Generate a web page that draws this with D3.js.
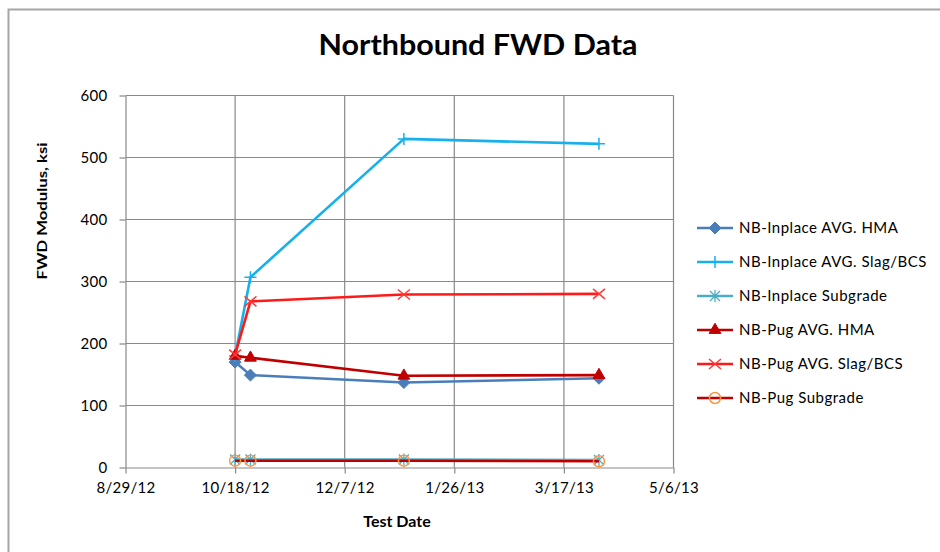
<!DOCTYPE html>
<html>
<head>
<meta charset="utf-8">
<script src="https://cdn.jsdelivr.net/npm/d3@7"></script>
<style>
  body { margin: 0; background: #fff; }
  svg { display: block; font-family: Lato, "Open Sans", sans-serif; }
  .title { font-weight: bold; }
</style>
</head>
<body>
<svg width="940" height="552"></svg>
<script>
// test dates and tick labels
var testDates = ["2012-10-18", "2012-10-25", "2013-01-03", "2013-04-02"];
var tickLabels = ["8/29/12", "10/18/12", "12/7/12", "1/26/13", "3/17/13", "5/6/13"];
var yTicks = [0, 100, 200, 300, 400, 500, 600];

// series values (ksi)
var seriesNames = ["NB-Inplace AVG. HMA", "NB-Inplace AVG. Slag/BCS", "NB-Inplace Subgrade",
                   "NB-Pug AVG. HMA", "NB-Pug AVG. Slag/BCS", "NB-Pug Subgrade"];
var inplaceHMA  = [170, 149, 137, 144];
var inplaceSlag = [180, 307, 530, 522];
var inplaceSub  = [13, 13, 13, 12];
var pugHMA      = [180, 177, 148, 149];
var pugSlag     = [182, 268, 279, 280];
var pugSub      = [11, 11, 11, 10];

var svg = d3.select("svg");

// chart frame
svg.append("rect")
    .attr("x", 8.5).attr("y", 9.5)
    .attr("width", 960).attr("height", 600)
    .attr("fill", "none")
    .attr("stroke", "#a6a6a6")
    .attr("stroke-width", 2);

var parseDate = d3.timeParse("%Y-%m-%d");
var parseTick = d3.timeParse("%m/%d/%y");
var fmtTick = function(d) {
    return (d.getMonth() + 1) + "/" + d.getDate() + "/" + String(d.getFullYear()).slice(2);
};

var tickDates = tickLabels.map(parseTick);

var xScale = d3.scaleTime()
    .domain([tickDates[0], tickDates[tickDates.length - 1]])
    .range([125.5, 673.5]);
var yScale = d3.scaleLinear()
    .domain([0, 600])
    .range([467.5, 95.5]);

// gridlines
var grid = svg.append("g");
grid.selectAll("line.h").data(yTicks.slice(1)).enter().append("line")
    .attr("x1", xScale.range()[0]).attr("x2", xScale.range()[1])
    .attr("y1", function(d) { return yScale(d); })
    .attr("y2", function(d) { return yScale(d); })
    .attr("stroke", "#898989").attr("stroke-width", 1.2);
grid.selectAll("line.v").data(tickDates.slice(1)).enter().append("line")
    .attr("y1", yScale.range()[0]).attr("y2", yScale.range()[1])
    .attr("x1", function(d) { return xScale(d); })
    .attr("x2", function(d) { return xScale(d); })
    .attr("stroke", "#898989").attr("stroke-width", 1.2);

// axes
var xAxis = d3.axisBottom(xScale).tickValues(tickDates).tickFormat(fmtTick)
    .tickSizeInner(6).tickSizeOuter(0).tickPadding(9);
var yAxis = d3.axisLeft(yScale).tickValues(yTicks)
    .tickSizeInner(6).tickSizeOuter(0).tickPadding(12);

var gx = svg.append("g")
    .attr("transform", "translate(0," + yScale(0) + ")")
    .call(xAxis);
var gy = svg.append("g")
    .attr("transform", "translate(" + xScale.range()[0] + ",0)")
    .call(yAxis);
[gx, gy].forEach(function(g) {
    g.select(".domain").attr("stroke", "#898989").attr("stroke-width", 1.2);
    g.selectAll(".tick line").attr("stroke", "#898989").attr("stroke-width", 1.2);
    g.selectAll(".tick text")
        .attr("fill", "#000")
        .style("font-family", "Lato, sans-serif")
        .style("font-size", "15px")
        .style("letter-spacing", "0.3px");
});

// titles
svg.append("text")
    .attr("class", "title")
    .attr("x", 478).attr("y", 55)
    .attr("text-anchor", "middle")
    .attr("textLength", 319)
    .attr("lengthAdjust", "spacingAndGlyphs")
    .style("font-size", "29px")
    .text("Northbound FWD Data");

svg.append("text")
    .attr("class", "title")
    .attr("x", 397).attr("y", 527)
    .attr("text-anchor", "middle")
    .style("font-size", "16px")
    .text("Test Date");

svg.append("text")
    .attr("class", "title")
    .attr("transform", "translate(47,211) rotate(-90)")
    .attr("text-anchor", "middle")
    .attr("textLength", 137)
    .attr("lengthAdjust", "spacingAndGlyphs")
    .style("font-size", "14px")
    .text("FWD Modulus, ksi");

// marker drawing helpers
function drawMarker(g, type, color) {
    if (type === "diamond") {
        g.append("path").attr("d", "M0,-6L6,0L0,6L-6,0Z")
            .attr("fill", color).attr("stroke", color).attr("stroke-width", 1);
    } else if (type === "triangle") {
        g.append("path").attr("d", d3.symbol(d3.symbolTriangle, 60)())
            .attr("fill", color).attr("stroke", color).attr("stroke-width", 1);
    } else if (type === "plus") {
        g.append("path").attr("d", "M-6,0H6M0,-6V6")
            .attr("stroke", color).attr("stroke-width", 1.5);
    } else if (type === "x") {
        g.append("path").attr("d", "M-6,-5L6,5M-6,5L6,-5")
            .attr("stroke", color).attr("stroke-width", 1.5);
    } else if (type === "star") {
        g.append("path").attr("d", "M-5,-5L5,5M-5,5L5,-5M0,-6V6")
            .attr("stroke", color).attr("stroke-width", 1.3);
    } else if (type === "circle") {
        g.append("circle").attr("r", 5.5)
            .attr("fill", "none").attr("stroke", color).attr("stroke-width", 1.5);
    }
}

var series = [
    { name: seriesNames[0], values: inplaceHMA,  line: "#4a7ebb", marker: "diamond",  mcolor: "#4a7ebb" },
    { name: seriesNames[1], values: inplaceSlag, line: "#16b1ec", marker: "plus",     mcolor: "#16b1ec" },
    { name: seriesNames[2], values: inplaceSub,  line: "#4bacc6", marker: "star",     mcolor: "#4bacc6" },
    { name: seriesNames[3], values: pugHMA,      line: "#c00000", marker: "triangle", mcolor: "#c00000" },
    { name: seriesNames[4], values: pugSlag,     line: "#ff1a1a", marker: "x",        mcolor: "#ff3a3a" },
    { name: seriesNames[5], values: pugSub,      line: "#c00000", marker: "circle",   mcolor: "#f79646" }
];

var dates = testDates.map(parseDate);
var line = d3.line()
    .x(function(d) { return xScale(d[0]); })
    .y(function(d) { return yScale(d[1]); });

var plot = svg.append("g");
series.forEach(function(s) {
    var pts = dates.map(function(d, i) { return [d, s.values[i]]; });
    var g = plot.append("g");
    g.append("path")
        .attr("d", line(pts))
        .attr("fill", "none")
        .attr("stroke", s.line)
        .attr("stroke-width", 2.6)
        .attr("stroke-linejoin", "round");
    pts.forEach(function(p) {
        var m = g.append("g")
            .attr("transform", "translate(" + xScale(p[0]) + "," + yScale(p[1]) + ")");
        drawMarker(m, s.marker, s.mcolor);
    });
});

// legend
var legend = svg.append("g");
series.forEach(function(s, i) {
    var y = 228 + i * 34;
    var item = legend.append("g");
    item.append("line")
        .attr("x1", 697).attr("x2", 733)
        .attr("y1", y).attr("y2", y)
        .attr("stroke", s.line).attr("stroke-width", 2.6);
    var m = item.append("g").attr("transform", "translate(715," + y + ")");
    drawMarker(m, s.marker, s.mcolor);
    item.append("text")
        .attr("x", 739).attr("y", y + 5)
        .style("font-size", "15px")
        .style("letter-spacing", "0.5px")
        .text(s.name);
});
</script>
</body>
</html>
